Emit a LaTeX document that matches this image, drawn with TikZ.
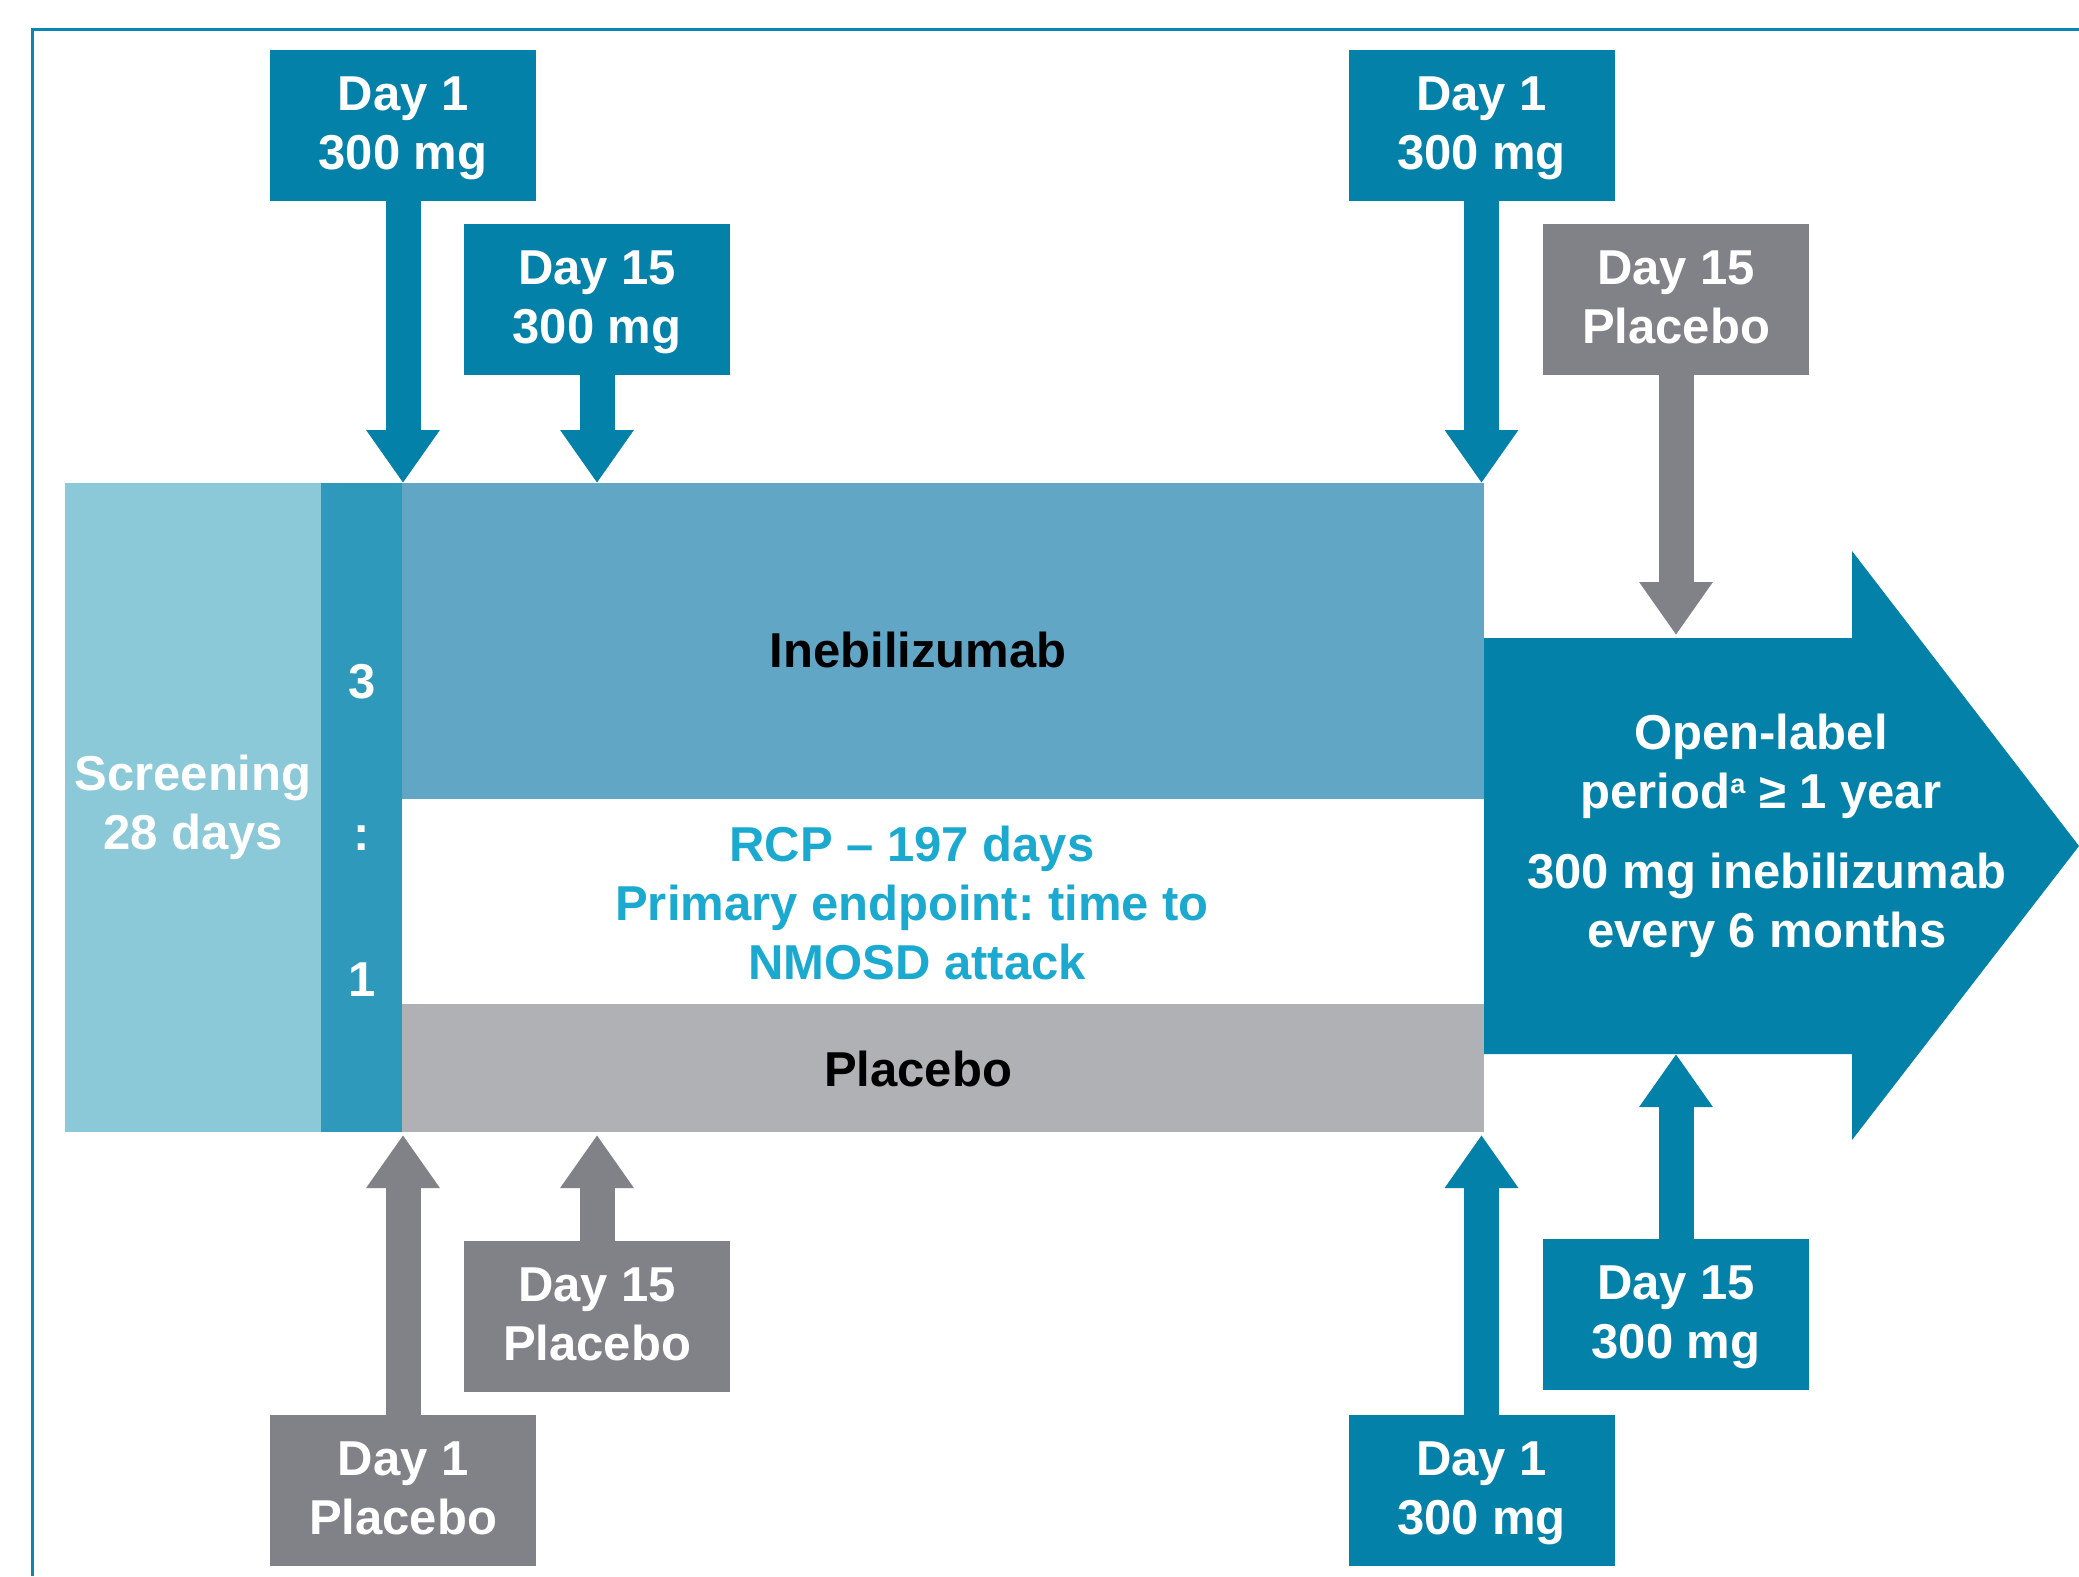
\documentclass[tikz,border=0pt]{standalone}
\usepackage{fontspec}
\setmainfont{Liberation Sans}
\usetikzlibrary{arrows.meta,calc}
\definecolor{cTeal}{HTML}{0381A8}
\definecolor{cGray}{HTML}{818287}
\definecolor{cScreen}{HTML}{8BC8D8}
\definecolor{cRatio}{HTML}{2E99BA}
\definecolor{cIneb}{HTML}{62A6C6}
\definecolor{cPlac}{HTML}{B0B1B5}
\definecolor{cRCP}{HTML}{1CA9D0}
\definecolor{cFrame}{HTML}{0A86B5}
\frenchspacing
\begin{document}
\begin{tikzpicture}[x=1pt,y=-1pt,
  txt/.style={font=\fontsize{49}{59}\selectfont\bfseries, align=center, inner sep=0pt, outer sep=0pt},
  dosebox/.style={txt, text=white, minimum width=266pt, minimum height=151pt, text depth=4pt},
  tealbox/.style={dosebox, fill=cTeal},
  graybox/.style={dosebox, fill=cGray},
  dosearrow/.style={line width=35pt, -{Triangle[width=70pt,length=53pt]}},
  band/.style={inner sep=0pt, outer sep=0pt}
]
\useasboundingbox (0,0) rectangle (2079,1576);
\draw[cFrame, line width=3pt] (32,1576) |- (2079,30);

% main bar
\node[band, fill=cScreen, minimum width=256pt, minimum height=649pt, txt, text=white] (scr) at (193,807.5) {Screening\\28 days};
\node[band, fill=cRatio, minimum width=81pt, minimum height=649pt] (ratio) at (361.5,807.5) {};
\node[band, fill=cIneb, minimum width=1082pt, minimum height=316pt] (ineb) at (943,641) {};
\node[band, fill=cPlac, minimum width=1082pt, minimum height=128pt] (plac) at (943,1068) {};

\node[txt, text=white] (r3) at (362,682) {3};
\node[txt, text=white] (rc) at (362,838) {:};
\node[txt, text=white] (r1) at (362,980) {1};

\node[txt, text=black] (inebT) at (918,650) {Inebilizumab};
\node[txt, text=black] (placT) at (918,1069) {Placebo};
\node[txt, text=cRCP] (rcp) at (912,903) {RCP – 197 days\\Primary endpoint: time to\\\hspace*{10pt}NMOSD attack};

% open-label arrow
\fill[cTeal] (1484,638) -- (1852,638) -- (1852,551) -- (2079,846) -- (1852,1140) -- (1852,1054) -- (1484,1054) -- cycle;
\coordinate (olTop) at (1678,638);
\coordinate (olBot) at (1678,1054);
\node[txt, text=white] (olA) at (1761,766) {Open-label\\period\raisebox{15pt}{\fontsize{27}{27}\selectfont a} ≥ 1 year};
\node[txt, text=white] (olB) at (1767,905) {300 mg inebilizumab\\every 6 months};

% dose boxes
\node[tealbox] (d1a) at (403,125.5) {Day 1\\300 mg};
\node[tealbox] (d15a) at (597,299.5) {Day 15\\300 mg};
\node[tealbox] (d1b) at (1481.5,125.5) {Day 1\\300 mg};
\node[graybox] (d15b) at (1676,299.5) {Day 15\\Placebo};
\node[graybox] (d1c) at (403,1490.5) {Day 1\\Placebo};
\node[graybox] (d15c) at (597,1316) {Day 15\\Placebo};
\node[tealbox] (d1d) at (1481.5,1490.5) {Day 1\\300 mg};
\node[tealbox] (d15d) at (1676,1314) {Day 15\\300 mg};

% arrows
\draw[dosearrow, cTeal] (d1a.south) -- (d1a.south |- ineb.north);
\draw[dosearrow, cTeal] (d15a.south) -- (d15a.south |- ineb.north);
\draw[dosearrow, cTeal] (d1b.south) -- (d1b.south |- ineb.north);
\draw[dosearrow, cGray, shorten >=3pt] (d15b.south) -- (d15b.south |- olTop);
\draw[dosearrow, cGray, shorten >=3pt] (d1c.north) -- (d1c.north |- plac.south);
\draw[dosearrow, cGray, shorten >=3pt] (d15c.north) -- (d15c.north |- plac.south);
\draw[dosearrow, cTeal, shorten >=3pt] (d1d.north) -- (d1d.north |- plac.south);
\draw[dosearrow, cTeal] (d15d.north) -- (d15d.north |- olBot);
\end{tikzpicture}
\end{document}
